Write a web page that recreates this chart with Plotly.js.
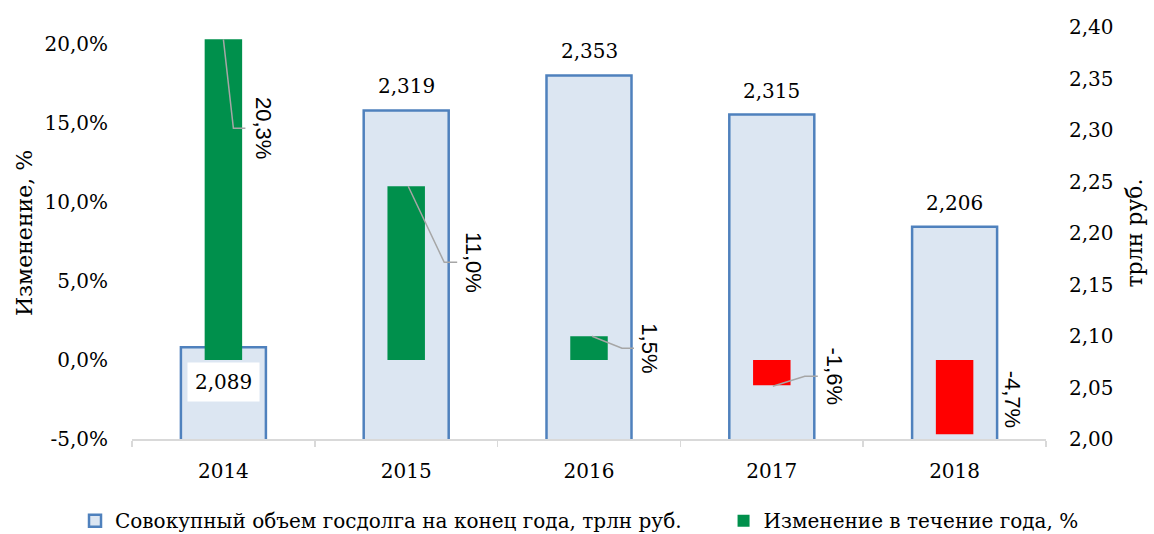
<!DOCTYPE html>
<html><head><meta charset="utf-8">
<script src="https://cdn.plot.ly/plotly-3.0.1.min.js"></script>
<style>html,body{margin:0;padding:0;background:#fff}#chart{width:1154px;height:534px}</style>
</head><body><div id="chart"></div>
<script>
// ---- data ----
const years = ['2014', '2015', '2016', '2017', '2018'];
const debtTotal = [2.089, 2.319, 2.353, 2.315, 2.206];     // трлн руб.
const debtChange = [20.3, 11.0, 1.5, -1.6, -4.7];          // %
const pctTicks = [-5, 0, 5, 10, 15, 20];
const seriesNames = ['Совокупный объем госдолга на конец года, трлн руб.', 'Изменение в течение года, %'];
const leftTitle = 'Изменение, %';
const rightTitle = 'трлн руб.';

// ---- presentation settings (not data) ----
const serif = 'DejaVu Serif, serif';
const sans = 'Liberation Sans, Arial, sans-serif';
const totalLabelShift = [-35, 24, 24, 24, 24];
const pctLabelShift = [[40, -89], [68, -76], [61, -12], [63, 9], [58, 35]];
const leaderPaths = [
  'M0,0 L10,-89 L22,-89',
  'M2,0 L38,-76 L51,-76',
  'M3,0 L33,-12 L45,-12',
  'M1,-1 L33,9 L46,9',
  null
];

const fmtNum = (v, d) => v.toFixed(d).replace('.', ',');
const idx = years.map((_, i) => i);

const traceTotal = {
  type: 'bar', x: years, y: debtTotal, yaxis: 'y', name: seriesNames[0],
  legend: 'legend',
  width: 0.465,
  marker: {color: '#dce6f2', line: {color: '#4f81bd', width: 2.5}},
  hoverinfo: 'skip'
};
const traceChange = {
  type: 'bar', x: years, y: debtChange, yaxis: 'y2', name: seriesNames[1],
  legend: 'legend2',
  width: 0.205,
  marker: {color: debtChange.map(v => v >= 0 ? '#00904c' : '#ff0000')},
  hoverinfo: 'skip'
};

const annotations = [];
idx.forEach(i => {
  annotations.push({
    x: i, y: debtTotal[i], xref: 'x', yref: 'y',
    text: fmtNum(debtTotal[i], 3), showarrow: false,
    yshift: totalLabelShift[i],
    font: {family: serif, size: 20, color: '#000'},
    bgcolor: totalLabelShift[i] < 0 ? '#ffffff' : 'rgba(0,0,0,0)',
    borderpad: 7
  });
  annotations.push({
    x: i, y: debtChange[i], xref: 'x', yref: 'y2',
    text: fmtNum(debtChange[i], 1) + '%', showarrow: false,
    textangle: 90,
    xshift: pctLabelShift[i][0], yshift: pctLabelShift[i][1],
    font: {family: sans, size: 22, color: '#000'}
  });
});

const shapes = [];
idx.forEach(i => {
  if (!leaderPaths[i]) return;
  shapes.push({
    type: 'path', xref: 'x', yref: 'y2',
    xsizemode: 'pixel', ysizemode: 'pixel',
    xanchor: i, yanchor: debtChange[i],
    path: leaderPaths[i],
    line: {color: '#a6a6a6', width: 1.5}
  });
});

const legendBase = {
  orientation: 'h', xref: 'container', yref: 'container',
  xanchor: 'left', y: 0.025, yanchor: 'middle',
  font: {family: serif, size: 20, color: '#000'},
  bgcolor: 'rgba(0,0,0,0)',
  itemclick: false, itemdoubleclick: false
};

const layout = {
  width: 1154, height: 534,
  margin: {l: 132, r: 108, t: 27, b: 95, autoexpand: false},
  paper_bgcolor: '#fff', plot_bgcolor: '#fff',
  separators: ', ',
  barmode: 'overlay',
  showlegend: true,
  font: {family: serif, size: 20, color: '#000'},
  xaxis: {
    type: 'category', range: [-0.5, 4.5], autorange: false,
    showline: true, linecolor: '#d9d9d9', linewidth: 1.5,
    ticks: 'outside', tickson: 'boundaries', ticklen: 6, tickcolor: '#d9d9d9', tickwidth: 1.5,
    tickfont: {family: serif, size: 20, color: '#000'}, tickangle: 0,
    ticklabelstandoff: 13, showgrid: false, zeroline: false, fixedrange: true
  },
  yaxis: {
    side: 'right', range: [2.0, 2.4], autorange: false, tick0: 2.0, dtick: 0.05, tickformat: '.2f',
    showgrid: false, zeroline: false, showline: false, ticks: '',
    ticklabelstandoff: 22,
    tickfont: {family: serif, size: 20, color: '#000'},
    title: {text: rightTitle, standoff: 14, font: {family: serif, size: 22, color: '#000'}},
    fixedrange: true
  },
  yaxis2: {
    overlaying: 'y', side: 'left', range: [-5, 21.08], autorange: false,
    tickmode: 'array', tickvals: pctTicks, ticktext: pctTicks.map(v => fmtNum(v, 1) + '%'),
    showgrid: false, zeroline: false, showline: false, ticks: '',
    ticklabelstandoff: 23,
    tickfont: {family: serif, size: 20, color: '#000'},
    title: {text: leftTitle, standoff: 5, font: {family: serif, size: 22, color: '#000'}},
    fixedrange: true
  },
  legend: Object.assign({}, legendBase, {x: 0.065}),
  legend2: Object.assign({}, legendBase, {x: 0.627}),
  annotations: annotations,
  shapes: shapes
};

Plotly.newPlot('chart', [traceTotal, traceChange], layout, {displayModeBar: false, staticPlot: true});
</script>
</body></html>
